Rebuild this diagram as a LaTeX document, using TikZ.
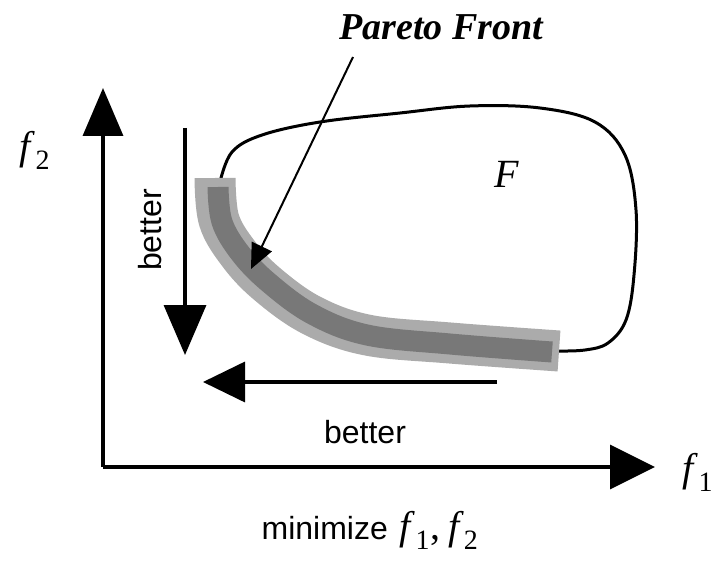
\documentclass[tikz,border=0pt]{standalone}
\usepackage{fontspec}
\setmainfont{Liberation Serif}
\setsansfont{Liberation Sans}
\usetikzlibrary{arrows.meta}
\newcommand{\fsub}[1]{\textit{f}\textsubscript{#1}}

\begin{document}
\begin{tikzpicture}[x=1pt,y=-1pt,
	axis/.style={ line width=3.5pt, -{Triangle[length=48pt,width=40pt]} },
	better/.style={ line width=3.5pt, -{Triangle[length=48pt,width=40pt]} },
	region/.style={ line width=3pt },
	frontout/.style={ line width=41pt, black!33, line cap=butt },
	frontin/.style={ line width=21pt, black!53, line cap=butt },
	sanslbl/.style={ font=\sffamily\fontsize{32}{36}\selectfont, inner sep=0pt },
	serlbl/.style={ font=\fontsize{40}{44}\selectfont, inner sep=0pt }
]
\useasboundingbox (0,0) rectangle (714,561);

% feasible region F
\draw[region] plot[smooth,tension=0.6] coordinates {(220,182) (232,152) (262,135) (320,122) (400,113) (470,106) (540,108) (595,122) (625,155) (636,210) (634,275) (626,320) (608,343) (585,350) (557,351)};
\node at (507,174) (F) [serlbl] {\textit{F}};

% Pareto front
\draw[frontout] plot[smooth,tension=0.6] coordinates {(215,178) (219,220) (238,253) (266,283) (311,315) (367,335) (450,343) (559,351)};
\draw[frontin] plot[smooth,tension=0.6] coordinates {(218,187) (222,222) (240,253) (268,282) (312,314) (367,335) (450,344) (552,352)};

% axes
\coordinate (O) at (103,467);
\coordinate (ytip) at (103,88);
\coordinate (xtip) at (655,467);
\draw[axis] (O) -- (ytip);
\draw[axis,-{Triangle[length=45pt,width=44pt]}] (O) -- (xtip);
\node at (35,150) (f2) [serlbl] {\fsub{2}};
\node at (698,472) (f1) [serlbl] {\fsub{1}};
\node at (370,530) (goal) [inner sep=0pt] {{\sffamily\fontsize{32}{36}\selectfont minimize\hspace{12pt}}{\fontsize{40}{44}\selectfont\fsub{1},\hspace{8pt}\fsub{2}}};

% better directions
\coordinate (dtop) at (185,128);
\coordinate (dend) at (185,355);
\draw[better,-{Triangle[length=50pt,width=42pt]}] (dtop) -- (dend);
\node at (150,230) (b2) [sanslbl,rotate=90] {better};
\coordinate (lstart) at (497,382);
\coordinate (lend) at (203,382);
\draw[better,-{Triangle[length=42pt,width=40pt]}] (lstart) -- (lend);
\node at (365,432) (b1) [sanslbl] {better};

% pointer to the front
\node at (441,27) (pf) [font=\fontsize{38}{42}\selectfont\bfseries\itshape, inner sep=0pt] {Pareto Front};
\coordinate (ptail) at (353,57);
\coordinate (phead) at (251,269);
\draw[line width=2pt,-{Triangle[length=25pt,width=22pt]}] (ptail) -- (phead);

\end{tikzpicture}
\end{document}
